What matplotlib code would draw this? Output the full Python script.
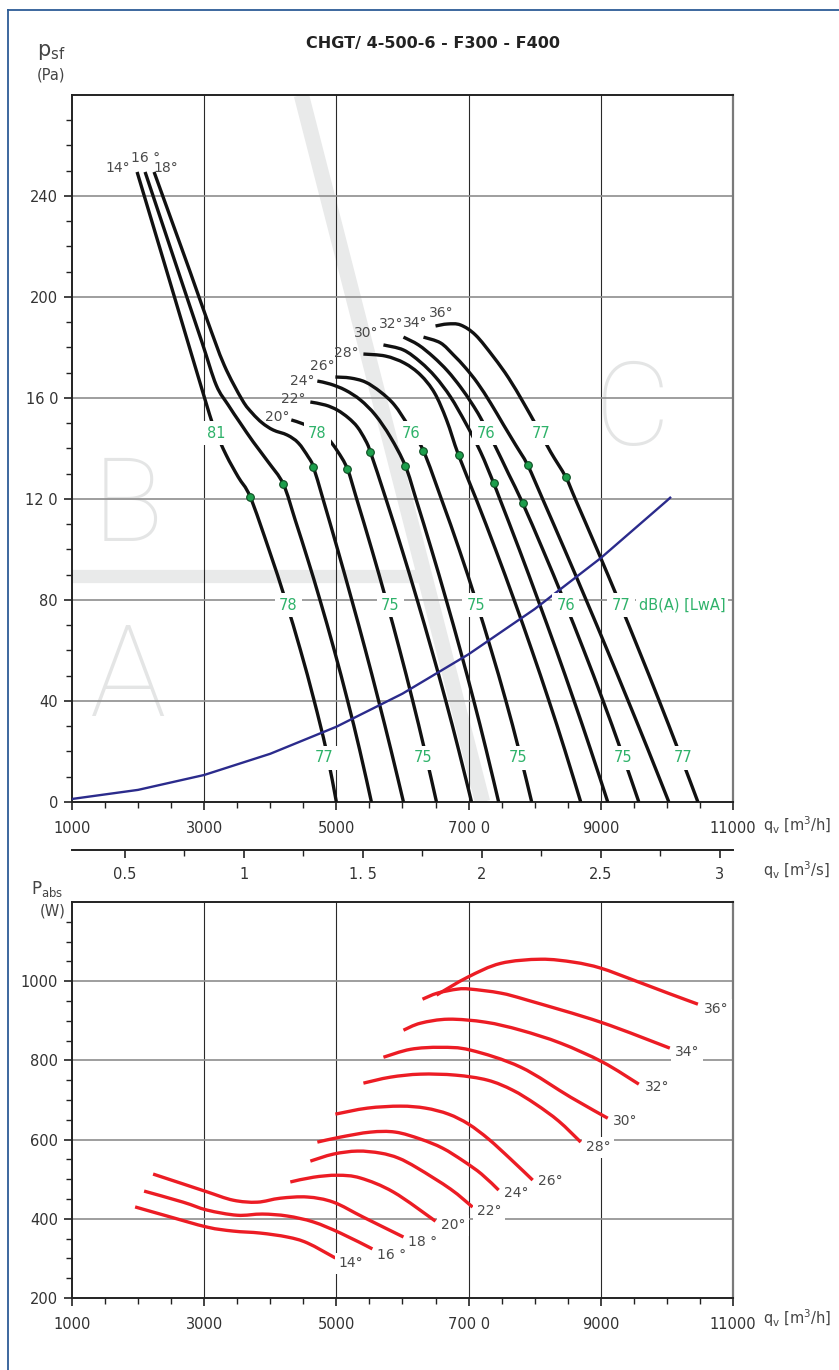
import matplotlib
matplotlib.use("Agg")
import matplotlib.pyplot as plt
from matplotlib.lines import Line2D
from matplotlib.path import Path
from matplotlib.patches import PathPatch
from matplotlib.ticker import MultipleLocator, FixedLocator

plt.rcParams['font.family'] = ['DejaVu Sans']

# ---------------- top chart: static pressure p_sf [Pa] vs q_v [m3/h] ----------------
q_14 = [1985, 2500, 3015, 3152, 3333, 3515, 3697, 3982, 4230, 4456, 4661, 4846, 5000]
p_14 = [249.5, 204.4, 159.2, 148.1, 137.4, 128.7, 120.8, 99.8, 80, 60.2, 40.4, 20.6, 0]
q_16 = [2106, 2394, 2682, 2970, 3182, 3364, 3545, 3742, 3970, 4197, 4377, 4570, 4752, 4967, 5167, 5353, 5530]
p_16 = [249.5, 226.9, 204.3, 181.8, 165.1, 157.2, 150.1, 142.6, 134.6, 125.9, 111.7, 95.8, 80, 60.2, 40.4, 20.6, 0]
q_18 = [2242, 2515, 2788, 3045, 3303, 3576, 3727, 3879, 4045, 4258, 4424, 4576, 4652, 4802, 5021, 5233, 5439,
        5636, 5826, 6015]
p_18 = [249.5, 229.7, 209.9, 190.9, 173.0, 159.2, 154.0, 150.1, 147.3, 145.3, 142.2, 136.6, 132.7, 119.6, 99.8,
        80, 60.2, 40.4, 20.6, 0]
q_20 = [4318, 4500, 4682, 4864, 5015, 5167, 5312, 5538, 5753, 5958, 6152, 6335, 6515]
p_20 = [151.3, 149.7, 147.3, 144.1, 139.0, 131.9, 119.6, 99.8, 80, 60.2, 40.4, 20.6, 0]
q_22 = [4606, 4833, 5015, 5182, 5318, 5439, 5515, 5755, 5994, 6223, 6442, 6652, 6850, 7045]
p_22 = [158.4, 157.2, 155.2, 152.1, 148.5, 143.3, 138.6, 119.6, 99.8, 80, 60.2, 40.4, 20.6, 0]
q_24 = [4712, 4909, 5136, 5364, 5591, 5818, 6045, 6209, 6441, 6662, 6874, 7076, 7267, 7455]
p_24 = [166.7, 165.5, 163.1, 159.2, 153.2, 144.5, 133.0, 119.6, 99.8, 80, 60.2, 40.4, 20.6, 0]
q_26 = [4985, 5212, 5439, 5667, 5879, 6091, 6318, 6594, 6861, 7109, 7342, 7561, 7762, 7955]
p_26 = [168.3, 167.9, 166.3, 162.4, 157.2, 148.9, 139.0, 119.6, 99.8, 80, 60.2, 40.4, 20.6, 0]
q_28 = [5409, 5742, 6030, 6273, 6485, 6667, 6848, 7120, 7411, 7689, 7956, 8212, 8456, 8697]
p_28 = [177.4, 176.6, 173.8, 169.1, 162.0, 151.3, 137.4, 119.6, 99.8, 80, 60.2, 40.4, 20.6, 0]
q_30 = [5712, 6015, 6273, 6500, 6727, 6955, 7182, 7379, 7479, 7770, 8051, 8326, 8591, 8848, 9106]
p_30 = [181.0, 179.0, 174.2, 168.3, 160.4, 150.1, 138.6, 126.3, 119.6, 99.8, 80, 60.2, 40.4, 20.6, 0]
q_32 = [6015, 6242, 6470, 6682, 6879, 7045, 7182, 7394, 7606, 7818, 8126, 8441, 8742, 9030, 9304, 9576]
p_32 = [184.1, 181.0, 176.2, 170.7, 164.3, 158.0, 152.1, 141.4, 129.9, 118.4, 99.8, 80, 60.2, 40.4, 20.6, 0]
q_34 = [6318, 6576, 6773, 6955, 7136, 7333, 7530, 7712, 7894, 8127, 8456, 8779, 9097, 9409, 9717, 10030]
p_34 = [184.1, 181.8, 177.0, 171.9, 165.9, 158.0, 149.3, 141.4, 133.4, 119.6, 99.8, 80, 60.2, 40.4, 20.6, 0]
q_36 = [6500, 6682, 6879, 7106, 7379, 7606, 7833, 8045, 8242, 8470, 8621, 8948, 9267, 9576, 9879, 10173, 10470]
p_36 = [188.5, 189.3, 188.9, 184.9, 176.2, 167.9, 158.0, 148.1, 138.6, 128.7, 119.6, 99.8, 80, 60.2, 40.4, 20.6, 0]

fan_curves = [(q_14, p_14), (q_16, p_16), (q_18, p_18), (q_20, p_20), (q_22, p_22), (q_24, p_24),
              (q_26, p_26), (q_28, p_28), (q_30, p_30), (q_32, p_32), (q_34, p_34), (q_36, p_36)]

# optimum points (green dots)
dot_q = [3697, 4197, 4652, 5167, 5515, 6045, 6318, 6848, 7379, 7818, 7894, 8470]
dot_p = [120.8, 125.9, 132.7, 131.9, 138.6, 133.0, 139.0, 137.4, 126.3, 118.4, 133.4, 128.7]

# system curve
sys_q = [1000, 2000, 3000, 4000, 5000, 6000, 7000, 8000, 9000, 10000, 10050]
sys_p = [1.2, 4.8, 10.7, 19.1, 29.8, 42.9, 58.5, 76.4, 96.6, 119.3, 120.5]

# blade angle labels (top)
ang_text = ["14°", "16 °", "18°", "20°", "22°", "24°", "26°", "28°", "30°", "32°", "34°", "36°"]
ang_q = [1697, 2106, 2424, 4106, 4348, 4485, 4788, 5152, 5455, 5833, 6197, 6591]
ang_p = [251, 255, 251, 152.5, 159.6, 166.7, 172.6, 177.8, 185.7, 189.3, 189.7, 193.7]

# sound power labels dB(A)
db_text = ["81", "78", "76", "76", "77",
           "78", "75", "75", "76", "77",
           "77", "75", "75", "75", "77"]
db_q = [3182, 4712, 6136, 7258, 8091,
        4273, 5818, 7106, 8470, 9303,
        4818, 6318, 7742, 9333, 10242]
db_p = [146, 146, 146, 146, 146,
        78, 78, 78, 78, 78,
        17.5, 17.5, 17.5, 17.5, 17.5]

# ---------------- bottom chart: absorbed power P_abs [W] ----------------
w_14_q = [1955, 2439, 3045, 3439, 3848, 4258, 4561, 4985]
w_14_p = [430, 407, 379, 369, 364, 354, 339, 301]
w_16_q = [2091, 2682, 3045, 3500, 3879, 4258, 4652, 5061, 5545]
w_16_p = [470, 442, 422, 409, 412, 407, 392, 364, 324]
w_18_q = [2227, 2682, 3045, 3439, 3803, 4152, 4561, 4955, 5409, 6015]
w_18_p = [513, 488, 468, 447, 442, 452, 455, 442, 404, 354]
w_20_q = [4303, 4652, 5015, 5364, 5864, 6500]
w_20_p = [493, 505, 510, 503, 467.5, 394]
w_22_q = [4606, 4955, 5318, 5667, 5939, 6227, 6727, 7061]
w_22_p = [545.7, 563.4, 571, 565.9, 553.3, 528.1, 475.1, 429.6]
w_24_q = [4712, 5061, 5515, 5894, 6273, 6606, 6924, 7197, 7455]
w_24_p = [593.7, 606.3, 618.9, 618.9, 601.3, 578.5, 545.7, 512.9, 472.5]
w_26_q = [4985, 5470, 5970, 6348, 6697, 7000, 7303, 7636, 7970]
w_26_p = [664.3, 679.5, 684.5, 679.5, 664.3, 639.1, 601.3, 550.8, 497.8]
w_28_q = [5409, 5818, 6273, 6803, 7288, 7667, 8015, 8364, 8697]
w_28_p = [742.6, 757.7, 765.3, 762.8, 750.1, 724.9, 689.6, 646.7, 593.7]
w_30_q = [5712, 6121, 6576, 7030, 7788, 8545, 9106]
w_30_p = [808, 828, 833, 826, 783, 707, 654]
w_32_q = [6015, 6273, 6697, 7258, 7788, 8394, 9030, 9576]
w_32_p = [876.3, 894, 904.1, 896.5, 876.3, 843.5, 795.6, 740]
w_34_q = [6303, 6530, 6833, 7030, 7485, 7894, 9000, 10045]
w_34_p = [954.6, 970, 980, 980, 970, 952, 896.5, 831]
w_36_q = [6515, 6985, 7485, 8091, 8591, 9000, 9500, 10015, 10470]
w_36_p = [965, 1010, 1045, 1055.5, 1048, 1033, 1002.5, 970, 942]

power_curves = [(w_14_q, w_14_p), (w_16_q, w_16_p), (w_18_q, w_18_p), (w_20_q, w_20_p),
                (w_22_q, w_22_p), (w_24_q, w_24_p), (w_26_q, w_26_p), (w_28_q, w_28_p),
                (w_30_q, w_30_p), (w_32_q, w_32_p), (w_34_q, w_34_p), (w_36_q, w_36_p)]

pw_text = ["14°", "16 °", "18 °", "20°", "22°", "24°", "26°", "28°", "30°", "32°", "34°", "36°"]
pw_q = [5030, 5621, 6091, 6576, 7121, 7530, 8045, 8773, 9182, 9667, 10121, 10561]
pw_p = [288, 308.5, 341, 384, 419.5, 465, 495, 581, 646.7, 732.5, 821, 929]

q_ticks = [1000, 3000, 5000, 7000, 9000, 11000]
q_labels = ["1000", "3000", "5000", "700 0", "9000", "11000"]
p_ticks = [0, 40, 80, 120, 160, 200, 240]
p_labels = ["0", "40", "80", "12 0", "16 0", "200", "240"]
w_ticks = [200, 400, 600, 800, 1000]
s_ticks = [0.5, 1, 1.5, 2, 2.5, 3]
s_labels = ["0.5", "1", "1. 5", "2", "2.5", "3"]

# ---------------- drawing ----------------
fig = plt.figure(figsize=(8.39, 13.7), dpi=100)
ax = fig.add_axes([0.0858, 0.4146, 0.7878, 0.5161])
bx = fig.add_axes([0.0858, 0.05255, 0.7878, 0.28905])
sx = fig.add_axes([0.0858, 0.3796, 0.7878, 0.0001])

txt_col = '#333333'
grid_h = '#8e8e8e'
grid_v = '#2a2a2a'


def smooth_curve(a, xs, ys, color, lw):
    # smooth line through the read points (cubic Bezier segments)
    pts = list(zip(xs, ys))
    verts = [pts[0]]
    codes = [Path.MOVETO]
    n = len(pts)
    for i in range(n - 1):
        p0 = pts[i - 1] if i > 0 else pts[i]
        p1 = pts[i]
        p2 = pts[i + 1]
        p3 = pts[i + 2] if i + 2 < n else pts[i + 1]
        c1 = (p1[0] + (p2[0] - p0[0]) / 6.0, p1[1] + (p2[1] - p0[1]) / 6.0)
        c2 = (p2[0] - (p3[0] - p1[0]) / 6.0, p2[1] - (p3[1] - p1[1]) / 6.0)
        verts += [c1, c2, p2]
        codes += [Path.CURVE4] * 3
    a.add_patch(PathPatch(Path(verts, codes), fill=False, ec=color, lw=lw,
                          capstyle='butt', joinstyle='round', zorder=3))


def style_axes(a, yt, ylab):
    a.set_xlim(1000, 11000)
    a.xaxis.set_major_locator(FixedLocator(q_ticks))
    a.set_xticklabels(q_labels)
    a.xaxis.set_minor_locator(MultipleLocator(500))
    a.yaxis.set_major_locator(FixedLocator(yt))
    a.set_yticklabels(ylab)
    a.tick_params(axis='both', which='major', direction='out', length=6, width=1.2,
                  color='#222222', labelsize=10.5, labelcolor=txt_col)
    a.tick_params(axis='both', which='minor', direction='out', length=4, width=1.0, color='#222222')
    a.tick_params(axis='x', which='major', pad=8)
    a.tick_params(axis='y', which='major', pad=4)
    for s in ['left', 'bottom', 'top']:
        a.spines[s].set_color('#222222')
        a.spines[s].set_linewidth(1.4)
    a.spines['right'].set_color('#7a7a7a')
    a.spines['right'].set_linewidth(1.6)
    for x in [3000, 5000, 7000, 9000]:
        a.axvline(x, color=grid_v, lw=0.8, zorder=1)


# top chart
ax.set_ylim(0, 280)
style_axes(ax, p_ticks, p_labels)
ax.yaxis.set_minor_locator(FixedLocator([v for v in range(10, 280, 10) if v % 40]))
for y in [40, 80, 120, 160, 200, 240]:
    ax.axhline(y, color=grid_h, lw=1.2, zorder=1)

# background zone marks
ax.plot([4470, 7212], [280, 0], color='#e9eaea', lw=11, solid_capstyle='butt', zorder=0.5)
ax.plot([1000, 6290], [89.3, 89.3], color='#e9eaea', lw=9.5, solid_capstyle='butt', zorder=0.5)
for ch, xq, yp, fs in [("B", 1850, 116, 84), ("A", 1850, 48, 92), ("C", 9480, 154, 84)]:
    ax.text(xq, yp, ch, fontsize=fs, color='#e4e5e5', ha='center', va='center',
            family='Roboto', fontweight='light', zorder=0.6)

for qq, pp in fan_curves:
    smooth_curve(ax, qq, pp, '#111111', 2.4)

ax.plot(sys_q, sys_p, color='#2b2b8c', lw=1.7, zorder=4)
ax.plot(dot_q, dot_p, 'o', ms=5.5, mfc='#1d9e4c', mec='#0d4d22', mew=0.8, zorder=6)

for t, xq, yp in zip(ang_text, ang_q, ang_p):
    ax.text(xq, yp, t, fontsize=10, color='#4a4a4a', ha='center', va='center', zorder=5)

for t, xq, yp in zip(db_text, db_q, db_p):
    ax.text(xq, yp, t, fontsize=10.5, color='#2fb26a', ha='center', va='center', zorder=5,
            bbox=dict(boxstyle='square,pad=0.3', fc='white', ec='none'))
ax.text(9576, 78, "dB(A) [LwA]", fontsize=10.5, color='#2fb26a', ha='left', va='center', zorder=5,
        bbox=dict(boxstyle='square,pad=0.2', fc='white', ec='none'))

# m3/s scale
sx.set_xlim(1000 / 3600.0, 11000 / 3600.0)
sx.set_yticks([])
for s in ['left', 'right', 'top']:
    sx.spines[s].set_visible(False)
sx.spines['bottom'].set_color('#222222')
sx.spines['bottom'].set_linewidth(1.4)
sx.xaxis.set_major_locator(FixedLocator(s_ticks))
sx.set_xticklabels(s_labels)
sx.xaxis.set_minor_locator(FixedLocator([0.75, 1.25, 1.75, 2.25, 2.75]))
sx.tick_params(which='major', direction='out', length=6, width=1.2, color='#222222',
               labelsize=10.5, labelcolor=txt_col, pad=6)
sx.tick_params(which='minor', direction='out', length=4, width=1.0, color='#222222')
sx.patch.set_visible(False)

# bottom chart
bx.set_ylim(200, 1200)
style_axes(bx, w_ticks, [str(v) for v in w_ticks])
bx.yaxis.set_minor_locator(FixedLocator([v for v in range(250, 1200, 50) if v % 200]))
for y in [400, 600, 800, 1000]:
    bx.axhline(y, color=grid_h, lw=1.2, zorder=1)

for qq, pp in power_curves:
    smooth_curve(bx, qq, pp, '#ec1c24', 2.4)

for t, xq, yp in zip(pw_text, pw_q, pw_p):
    bx.text(xq, yp, t, fontsize=10, color='#4a4a4a', ha='left', va='center', zorder=5,
            bbox=dict(boxstyle='square,pad=0.25', fc='white', ec='none'))

# axis captions and title
fig.text(0.516, 0.9685, "CHGT/ 4-500-6 - F300 - F400", ha='center', va='center',
         fontsize=11.5, fontweight='bold', color='#222222')
fig.text(0.044, 0.962, r"p$_\mathregular{sf}$", fontsize=15, color='#444444', ha='left', va='center')
fig.text(0.044, 0.945, "(Pa)", fontsize=10.5, color='#444444', ha='left', va='center')
fig.text(0.037, 0.351, r"P$_\mathregular{abs}$", fontsize=12, color='#444444', ha='left', va='center')
fig.text(0.047, 0.335, "(W)", fontsize=10.5, color='#444444', ha='left', va='center')
fig.text(0.909, 0.3978, r"q$_\mathregular{v}$ [m$^\mathregular{3}$/h]", fontsize=10.5, color='#444444',
         ha='left', va='center')
fig.text(0.909, 0.365, r"q$_\mathregular{v}$ [m$^\mathregular{3}$/s]", fontsize=10.5, color='#444444',
         ha='left', va='center')
fig.text(0.909, 0.038, r"q$_\mathregular{v}$ [m$^\mathregular{3}$/h]", fontsize=10.5, color='#444444',
         ha='left', va='center')

# page frame
frame_col = '#2d5c96'
fig.add_artist(Line2D([0.0095, 0.0095], [0.0, 0.9927], color=frame_col, lw=1.3))
fig.add_artist(Line2D([0.0095, 1.0], [0.9927, 0.9927], color=frame_col, lw=1.3))

fig.savefig("out.png", dpi=100)
